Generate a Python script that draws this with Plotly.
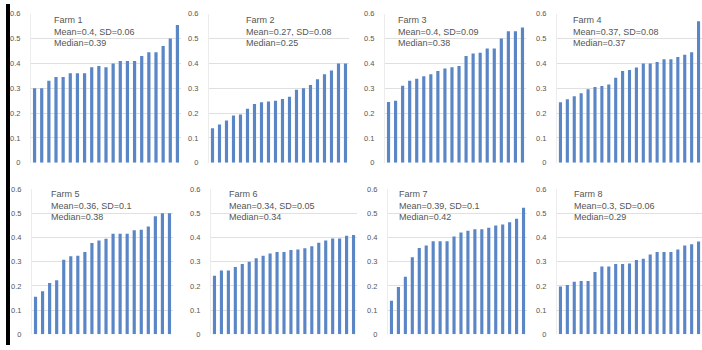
import plotly.graph_objects as go

W, H = 702, 350

farm_names = ["Farm 1", "Farm 2", "Farm 3", "Farm 4", "Farm 5", "Farm 6", "Farm 7", "Farm 8"]
farm_stats = [
    "Mean=0.4, SD=0.06<br>Median=0.39",
    "Mean=0.27, SD=0.08<br>Median=0.25",
    "Mean=0.4, SD=0.09<br>Median=0.38",
    "Mean=0.37, SD=0.08<br>Median=0.37",
    "Mean=0.36, SD=0.1<br>Median=0.38",
    "Mean=0.34, SD=0.05<br>Median=0.34",
    "Mean=0.39, SD=0.1<br>Median=0.42",
    "Mean=0.3, SD=0.06<br>Median=0.29",
]

farm1 = [0.30, 0.30, 0.33, 0.345, 0.345, 0.36, 0.36, 0.36, 0.385, 0.39, 0.385,
         0.40, 0.41, 0.41, 0.41, 0.43, 0.445, 0.445, 0.47, 0.50, 0.555]
farm2 = [0.139, 0.154, 0.17, 0.19, 0.194, 0.218, 0.237, 0.244, 0.247, 0.25,
         0.257, 0.266, 0.294, 0.30, 0.313, 0.336, 0.356, 0.372, 0.40, 0.40]
farm3 = [0.245, 0.25, 0.31, 0.33, 0.338, 0.348, 0.356, 0.37, 0.38, 0.385,
         0.39, 0.43, 0.44, 0.443, 0.46, 0.46, 0.50, 0.53, 0.53, 0.545]
farm4 = [0.244, 0.256, 0.268, 0.28, 0.296, 0.305, 0.309, 0.315, 0.342, 0.37,
         0.374, 0.384, 0.40, 0.40, 0.406, 0.417, 0.417, 0.426, 0.435, 0.445, 0.57]
farm5 = [0.155, 0.178, 0.212, 0.223, 0.308, 0.322, 0.325, 0.34, 0.377, 0.388,
         0.395, 0.415, 0.415, 0.415, 0.43, 0.432, 0.445, 0.488, 0.50, 0.50]
farm6 = [0.242, 0.264, 0.264, 0.278, 0.29, 0.30, 0.314, 0.325, 0.334, 0.34,
         0.34, 0.348, 0.35, 0.356, 0.364, 0.378, 0.388, 0.396, 0.396, 0.407, 0.41]
farm7 = [0.139, 0.195, 0.238, 0.318, 0.357, 0.367, 0.384, 0.384, 0.384, 0.404,
         0.421, 0.428, 0.434, 0.434, 0.44, 0.45, 0.454, 0.463, 0.477, 0.523]
farm8 = [0.197, 0.204, 0.217, 0.22, 0.22, 0.257, 0.28, 0.28, 0.29, 0.29, 0.293,
         0.307, 0.312, 0.33, 0.34, 0.34, 0.34, 0.35, 0.367, 0.372, 0.383]

farms = [farm1, farm2, farm3, farm4, farm5, farm6, farm7, farm8]
y_ticks = [0, 0.1, 0.2, 0.3, 0.4, 0.5, 0.6]
y_tick_labels = ["0", "0.1", "0.2", "0.3", "0.4", "0.5", "0.6"]

# layout in pixels (left, right) per panel, and (top, bottom) per row
x_px = [(31, 181), (209, 349), (385, 526), (557, 702),
        (32, 173), (211, 357), (388, 527), (557, 702)]
row_px = [(10, 163), (190, 339)]
text_px = [(52, 9), (244, 9), (396, 9), (571, 9),
           (49, 188), (227, 188), (397, 188), (572, 188)]

BAR = "#5a86c6"
GRID = "#e0e0e0"
TXT = "#555555"
FONT = "Liberation Sans, Arial, sans-serif"

fig = go.Figure()
annotations = []
for i, vals in enumerate(farms):
    n = i + 1
    xa = "x" if n == 1 else f"x{n}"
    ya = "y" if n == 1 else f"y{n}"
    cats = list(range(1, len(vals) + 1))
    fig.add_trace(go.Bar(x=cats, y=vals, xaxis=xa, yaxis=ya,
                         marker=dict(color=BAR, line=dict(width=0)),
                         showlegend=False, hoverinfo="skip"))
    l, r = x_px[i]
    t, b = row_px[i // 4]
    xkey = "xaxis" if n == 1 else f"xaxis{n}"
    ykey = "yaxis" if n == 1 else f"yaxis{n}"
    fig.update_layout(**{
        xkey: dict(domain=[l / W, r / W], anchor=ya, showticklabels=False,
                   showgrid=False, zeroline=False, showline=False,
                   range=[0.5, len(vals) + 0.5], fixedrange=True),
        ykey: dict(domain=[1 - b / H, 1 - t / H], anchor=xa, range=[0, 0.6],
                   tickvals=y_ticks, ticktext=y_tick_labels,
                   showgrid=True, gridcolor=GRID, gridwidth=1,
                   zeroline=False, showline=True, linecolor="#ececec",
                   ticks="", ticklabelstandoff=8,
                   tickfont=dict(size=7.5, color=TXT, family=FONT)),
    })
    tx, ty = text_px[i]
    annotations.append(dict(
        xref="paper", yref="paper", x=tx / W, y=1 - ty / H,
        xanchor="left", yanchor="top", align="left", showarrow=False,
        text=farm_names[i] + "<br>" + farm_stats[i],
        font=dict(size=9, color=TXT, family=FONT)))

fig.update_layout(
    width=W, height=H, margin=dict(l=0, r=0, t=0, b=0),
    paper_bgcolor="white", plot_bgcolor="white",
    bargap=0.55, annotations=annotations,
    shapes=[dict(type="rect", xref="paper", yref="paper",
                 x0=6 / W, x1=10 / W, y0=0, y1=1,
                 fillcolor="black", line=dict(width=0), layer="above")],
)

fig.write_html("out.html")
